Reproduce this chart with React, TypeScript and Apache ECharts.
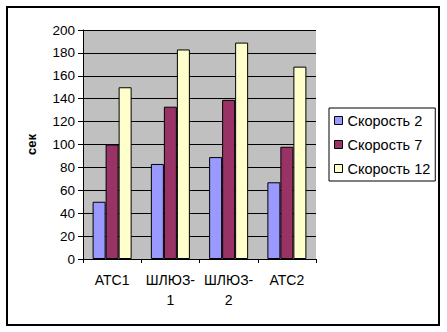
import React, { useEffect, useRef } from "react";
import * as echarts from "echarts";

const categories = ["АТС1", "ШЛЮЗ-1", "ШЛЮЗ-2", "АТС2"];
const seriesNames = ["Скорость 2", "Скорость 7", "Скорость 12"];
const speed2 = [50, 83, 89, 67];
const speed7 = [100, 133, 139, 98];
const speed12 = [150, 183, 189, 168];
const seriesColors = ["#9999ff", "#993366", "#ffffcc"];
const yTicks = { min: 0, max: 200, interval: 20 };
const yName = "сек";

const FONT = 'Arial, "Liberation Sans", sans-serif';

export default function App() {
  const ref = useRef<HTMLDivElement>(null);
  useEffect(() => {
    if (!ref.current) return;
    const chart = echarts.init(ref.current, null, { renderer: "svg" });
    const values = [speed2, speed7, speed12];
    chart.setOption({
      animation: false,
      backgroundColor: "#ffffff",
      textStyle: { fontFamily: FONT },
      graphic: [
        {
          type: "rect",
          shape: { x: 7, y: 7, width: 432, height: 318 },
          style: { fill: "none", stroke: "#000", lineWidth: 2 },
          silent: true,
        },
      ],
      grid: {
        left: 83,
        top: 30,
        width: 233,
        height: 229,
        show: true,
        backgroundColor: "#c0c0c0",
        borderWidth: 0,
      },
      legend: {
        orient: "vertical",
        left: 329,
        top: 108,
        data: seriesNames,
        itemWidth: 8,
        itemHeight: 8,
        itemGap: 9,
        padding: [5, 5, 5, 5],
        borderColor: "#000",
        borderWidth: 1,
        backgroundColor: "#fff",
        icon: "rect",
        itemStyle: { borderColor: "#000", borderWidth: 1 },
        textStyle: { fontFamily: FONT, fontSize: 14.5, color: "#000", lineHeight: 15 },
      },
      xAxis: {
        type: "category",
        data: categories,
        boundaryGap: true,
        axisLine: { lineStyle: { color: "#000", width: 1 } },
        axisTick: { show: true, length: 4, lineStyle: { color: "#000" } },
        axisLabel: {
          color: "#000",
          fontFamily: FONT,
          fontSize: 14,
          lineHeight: 20,
          margin: 11,
          interval: 0,
          formatter: (v: string) => v.replace("-", "-\n"),
        },
      },
      yAxis: {
        type: "value",
        min: yTicks.min,
        max: yTicks.max,
        interval: yTicks.interval,
        name: yName,
        nameLocation: "middle",
        nameRotate: 90,
        nameGap: 45,
        nameTextStyle: { fontFamily: FONT, fontSize: 13, fontWeight: "bold", color: "#000" },
        axisLine: { show: true, lineStyle: { color: "#000", width: 1 } },
        axisTick: { show: true, length: 5, lineStyle: { color: "#000" } },
        axisLabel: { color: "#000", fontFamily: FONT, fontSize: 13.5, margin: 8 },
        splitLine: { show: true, lineStyle: { color: "#000", width: 1 } },
      },
      series: seriesNames.map((name, i) => ({
        name,
        type: "bar",
        data: values[i],
        barGap: "0%",
        barCategoryGap: "33%",
        itemStyle: { color: seriesColors[i], borderColor: "#000", borderWidth: 1 },
      })),
    });
    return () => chart.dispose();
  }, []);
  return (
    <div
      ref={ref}
      style={{ position: "fixed", left: 0, top: 0, width: 447, height: 332 }}
    />
  );
}
